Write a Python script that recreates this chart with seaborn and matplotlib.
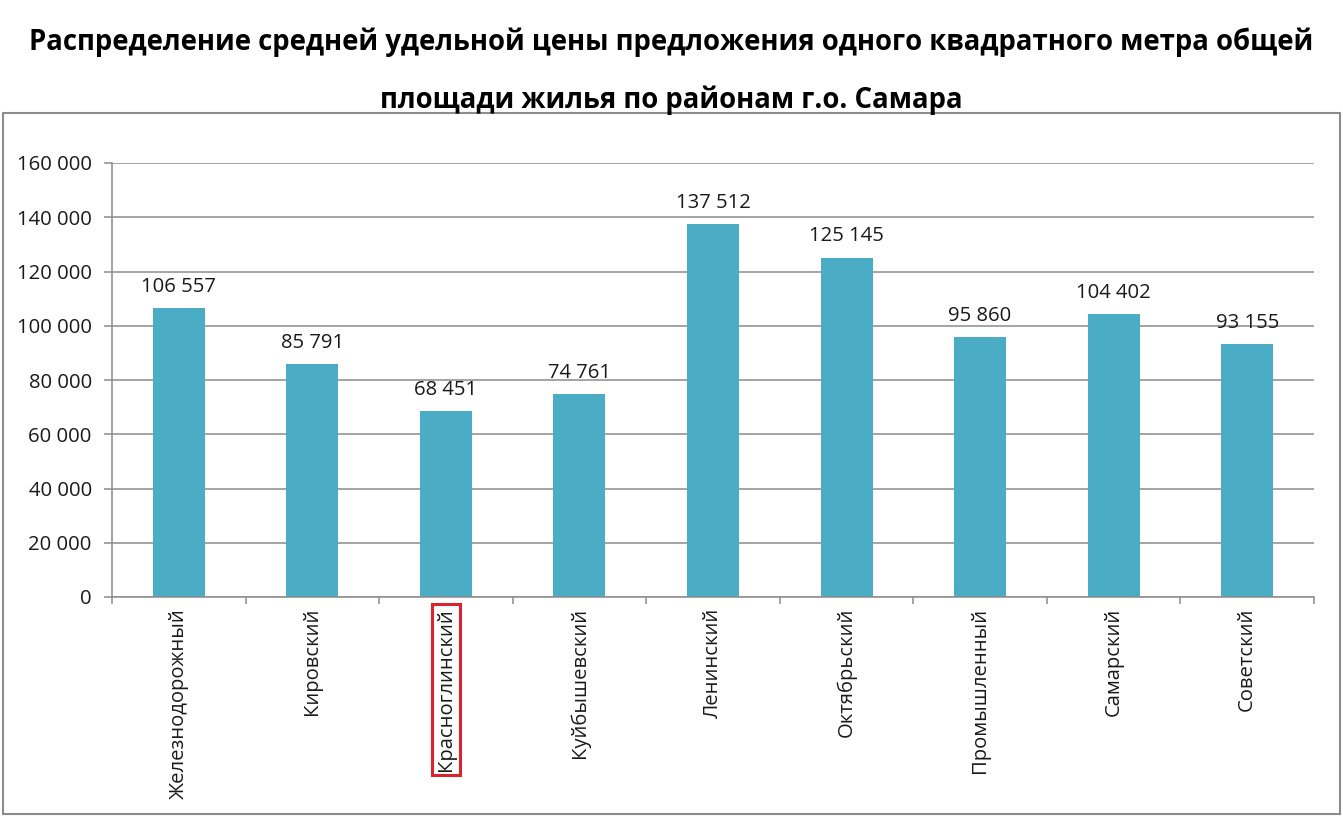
import matplotlib
matplotlib.use("Agg")
import matplotlib.pyplot as plt
import seaborn as sns
import pandas as pd
from matplotlib.patches import Rectangle
from matplotlib.ticker import FixedLocator, FuncFormatter

districts = ["Железнодорожный", "Кировский", "Красноглинский", "Куйбышевский",
             "Ленинский", "Октябрьский", "Промышленный", "Самарский", "Советский"]
prices = [106557, 85791, 68451, 74761, 137512, 125145, 95860, 104402, 93155]
y_ticks = [0, 20000, 40000, 60000, 80000, 100000, 120000, 140000, 160000]
title_lines = ["Распределение средней удельной цены предложения одного квадратного метра общей",
               "площади жилья по районам г.о. Самара"]
highlight = "Красноглинский"

sns.set_theme(style="white")
plt.rcParams['font.family'] = ['Open Sans', 'DejaVu Sans']

W, H = 1343, 816
fig = plt.figure(figsize=(W / 100, H / 100), dpi=100)
ax = fig.add_axes([112 / W, 1 - 597 / H, (1314 - 112) / W, (597 - 163) / H])

df = pd.DataFrame({"district": districts, "price": prices})
sns.barplot(data=df, x="district", y="price", color="#4BACC6", width=0.39,
            saturation=1, ax=ax, edgecolor="none")

ax.set_ylim(0, 160000)
ax.set_xlim(-0.5, len(districts) - 0.5)
ax.yaxis.set_major_locator(FixedLocator(y_ticks))
ax.yaxis.set_major_formatter(FuncFormatter(lambda v, p: f"{int(v):,}".replace(",", " ")))
ax.grid(axis="y", color="#8c8c8c", lw=1.1)
ax.set_axisbelow(True)
for s in ["top", "right"]:
    ax.spines[s].set_visible(False)
for s in ["left", "bottom"]:
    ax.spines[s].set_color("#8c8c8c")
    ax.spines[s].set_linewidth(1.1)

ax.tick_params(axis="y", which="major", length=5.5, width=1.1, color="#8c8c8c",
               labelsize=14.6, labelcolor="#1a1a1a", pad=9, left=True)
ax.set_xticks(range(len(districts)))
ax.set_xticklabels(districts, rotation=90, fontsize=14.6, color="#1a1a1a")
ax.tick_params(axis="x", which="major", length=0, pad=8)
ax.set_xticks([i + 0.5 for i in range(-1, len(districts))], minor=True)
ax.tick_params(axis="x", which="minor", length=5, width=1.1, color="#8c8c8c", bottom=True)
ax.set_xlabel("")
ax.set_ylabel("")

for i, v in enumerate(prices):
    ax.annotate(f"{v:,}".replace(",", " "), (i, v), xytext=(0, 8),
                textcoords="offset points", ha="center", va="bottom",
                fontsize=14.6, color="#1a1a1a")

for lbl in ax.get_xticklabels():
    if lbl.get_text() == highlight:
        lbl.set_bbox(dict(facecolor="none", edgecolor="#d9232d", lw=2.2, pad=3))

fig.patches.append(Rectangle((3 / W, 1 - 814 / H), (1340 - 3) / W, (814 - 113) / H,
                             transform=fig.transFigure, fill=False,
                             edgecolor="#8c8c8c", lw=1.5))

fig.text(0.5, 1 - 42 / H, title_lines[0], ha="center", va="center",
         fontsize=19.8, fontweight="bold", color="black")
fig.text(0.5, 1 - 100 / H, title_lines[1], ha="center", va="center",
         fontsize=19.8, fontweight="bold", color="black")

fig.savefig("out.png", dpi=100)
